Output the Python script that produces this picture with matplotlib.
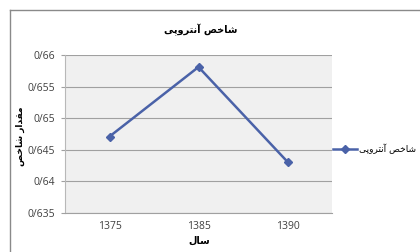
import matplotlib
matplotlib.use("Agg")
import matplotlib.pyplot as plt
from matplotlib.lines import Line2D

# Data
years = ["1375", "1385", "1390"]
values = [0.6471, 0.6581, 0.6431]
yticks = [0.635, 0.64, 0.645, 0.65, 0.655, 0.66]
ytick_labels = ["0/635", "0/64", "0/645", "0/65", "0/655", "0/66"]

# Persian texts (presentation forms in visual order)
title_txt = "\uFBFD\uFB58\uFEED\uFEAE\uFE98\uFEE7\uFE81 \uFEBA\uFEA7\uFE8E\uFEB7"   # شاخص آنتروپی
ylabel_txt = "\uFEBA\uFEA7\uFE8E\uFEB7 \uFEAD\uFE8D\uFEAA\uFED8\uFEE3"               # مقدار شاخص
xlabel_txt = "\uFEDD\uFE8E\uFEB3"                                                 # سال
legend_txt = title_txt

FONT = ["DejaVu Sans"]
NUMFONT = ["Open Sans", "DejaVu Sans"]
line_color = "#4A62A8"

fig = plt.figure(figsize=(4.2, 2.52), dpi=100)
fig.patch.set_facecolor("white")

W, H = 420.0, 252.0
ax = fig.add_axes([65 / W, 1 - 213 / H, (332 - 65) / W, (213 - 55) / H])
ax.set_facecolor("#f0f0f0")

x = list(range(len(years)))
ax.plot(x, values, color=line_color, lw=1.8, marker="D", ms=4.5,
        markerfacecolor=line_color, markeredgecolor=line_color, zorder=3)

ax.set_xlim(-0.5, len(years) - 0.5)
ax.set_ylim(yticks[0], yticks[-1])
ax.set_yticks(yticks)
ax.set_yticklabels(ytick_labels, fontfamily=NUMFONT, fontsize=7.5, color="#404040")
ax.set_xticks(x)
ax.set_xticklabels(years, fontfamily=NUMFONT, fontsize=7.5, color="#404040")
ax.grid(axis="y", color="#a0a0a0", lw=0.8)
ax.set_axisbelow(True)
for s in ["top", "right"]:
    ax.spines[s].set_visible(False)
ax.spines["left"].set_color("#b8b8b8")
ax.spines["bottom"].set_color("#a0a0a0")
ax.tick_params(axis="y", length=3, color="#a0a0a0", pad=4)
ax.tick_params(axis="x", length=0, pad=6)

# Title and axis labels
fig.text(201 / W, 1 - 30 / H, title_txt, ha="center", va="center",
         fontsize=7, fontweight="bold", family=FONT)
fig.text(199 / W, 1 - 241 / H, xlabel_txt, ha="center", va="center",
         fontsize=7, fontweight="bold", family=FONT)
fig.text(20 / W, 1 - 136 / H, ylabel_txt, ha="center", va="center",
         fontsize=6.5, fontweight="bold", rotation=90, family=FONT)

# Legend (line + marker, then text)
fig.add_artist(Line2D([333 / W, 357 / W], [1 - 149 / H, 1 - 149 / H],
                      color=line_color, lw=1.8))
fig.add_artist(Line2D([345 / W], [1 - 149 / H], color=line_color,
                      marker="D", ms=4, lw=0))
fig.text(359 / W, 1 - 149 / H, legend_txt, ha="left", va="center",
         fontsize=6.5, family=FONT)

# Chart border (cropped)
fig.add_artist(Line2D([9.5 / W, 9.5 / W], [0, 1 - 10 / H], color="#8a8a8a", lw=1.0))
fig.add_artist(Line2D([9.5 / W, 1], [1 - 10 / H, 1 - 10 / H], color="#8a8a8a", lw=1.0))

fig.savefig("out.png", dpi=100, facecolor="white")
